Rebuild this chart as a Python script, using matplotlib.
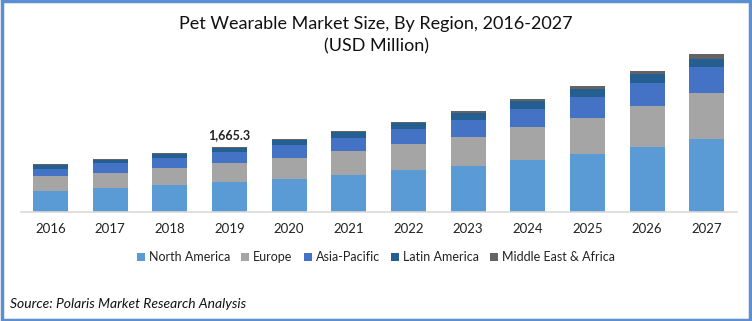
import numpy as np
import pandas as pd
import matplotlib.pyplot as plt
from matplotlib.patches import Rectangle

# market size by region, USD million
years = ['2016', '2017', '2018', '2019', '2020', '2021', '2022', '2023', '2024', '2025', '2026', '2027']
north_america = [535, 596, 673, 750.5, 840, 943, 1064, 1182, 1329, 1475, 1671, 1861]
europe = [386, 386, 452, 488.3, 547, 609, 676, 745, 840, 941, 1038, 1182]
asia_pacific = [172, 257, 257, 282.7, 319, 334, 386, 429, 463, 540, 591, 668]
latin_america = [95, 85, 95, 118.2, 123, 149, 157, 185, 213, 206, 231, 206]
middle_east_africa = [26, 26, 26, 25.6, 31, 31, 31, 39, 51, 62, 93, 129]
labelled_year = '2019'

regions = ['North America', 'Europe', 'Asia-Pacific', 'Latin America', 'Middle East & Africa']
colors = ['#5B9BD5', '#A5A5A5', '#4472C4', '#255E91', '#636363']

df = pd.DataFrame({
    'year': years,
    'North America': north_america,
    'Europe': europe,
    'Asia-Pacific': asia_pacific,
    'Latin America': latin_america,
    'Middle East & Africa': middle_east_africa,
})

plt.rcParams['font.family'] = ['Lato', 'DejaVu Sans']

fig = plt.figure(figsize=(7.52, 3.21), dpi=100)
ax = fig.add_axes([0.0275, 0.341, 0.952, 0.531])

x = np.arange(len(years))
bottom = np.zeros(len(years))
for region, color in zip(regions, colors):
    ax.bar(x, df[region], width=0.587, bottom=bottom, color=color, label=region)
    bottom += df[region].values

# total label on one bar
i = years.index(labelled_year)
ax.annotate(f'{bottom[i]:,.1f}', (x[i], bottom[i]), xytext=(0, 4), textcoords='offset points',
            ha='center', va='bottom', fontsize=9, fontweight='bold', color='#222222')

ax.set_xlim(-0.5, len(years) - 0.5)
ax.set_ylim(0, 4382)
ax.set_xticks(x)
ax.set_xticklabels(years, fontsize=9.5, color='#222222')
ax.tick_params(axis='x', length=0, pad=8)
ax.set_yticks([])
for side in ['top', 'right', 'left']:
    ax.spines[side].set_visible(False)
ax.spines['bottom'].set_color('#D9D9D9')
ax.spines['bottom'].set_linewidth(1.2)

fig.text(0.5, 0.925, 'Pet Wearable Market Size, By Region, 2016-2027', ha='center', va='center',
         fontsize=13, color='#111111')
fig.text(0.5, 0.855, '(USD Million)', ha='center', va='center', fontsize=13, color='#111111')

fig.legend(loc='center', bbox_to_anchor=(0.5, 0.198), ncol=5, frameon=False, fontsize=9,
           handlelength=0.65, handleheight=0.65, handletextpad=0.3, columnspacing=0.9,
           labelcolor='#222222')

fig.text(0.013, 0.053, 'Source: Polaris Market Research Analysis', ha='left', va='center',
         fontsize=10, style='italic', color='#111111')

# blue frame round the figure
fig.patches.append(Rectangle((0.002, 0.004), 0.996, 0.992, transform=fig.transFigure,
                             fill=False, edgecolor='#5B8FD0', linewidth=2.5))

plt.savefig('out.png', dpi=100)
